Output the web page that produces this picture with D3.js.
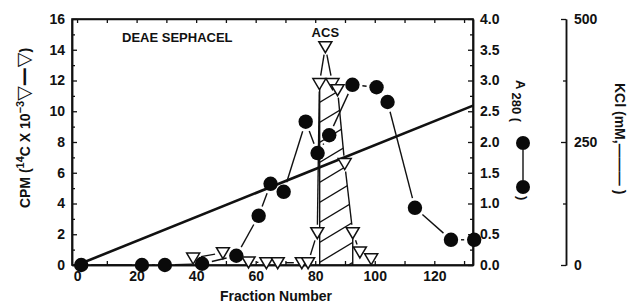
<!DOCTYPE html>
<html>
<head>
<meta charset="utf-8">
<script src="https://cdn.jsdelivr.net/npm/d3@7"></script>
<style>
  body { margin: 0; background: #fff; }
  svg { display: block; }
  text { font-family: "Liberation Sans", Arial, sans-serif; fill: #111; }
</style>
</head>
<body>
<svg id="chart" width="632" height="303"></svg>
<script>
// fraction numbers / values
const a280Fractions = [1.4, 21.8, 29.5, 42, 53.5, 61, 65, 69.4, 76.8, 80.8, 84.7, 92.5, 100.6, 104.3, 113.5, 125.6, 133.4]
const a280Values    = [0, 0, 0, 0.02, 0.15, 0.8, 1.32, 1.19, 2.33, 1.82, 2.11, 2.93, 2.89, 2.65, 0.93, 0.41, 0.41]

const cpmFractions = [39, 49, 57.6, 63.6, 67.4, 75.5, 77.6, 80.7, 81.4, 83.4, 85.8, 87.5, 89.9, 92.6, 95, 98.8]
const cpmValues    = [0.45, 0.8, 0.2, 0.15, 0.15, 0.15, 0.15, 2.1, 11.8, 14.2, 11.8, 11.4, 6.6, 2.1, 0.85, 0.4]

// pooled (hatched) fractions
const poolFractions = [81.5, 81.5, 85.8, 87.5, 89.9, 92.6, 92.6]
const poolValues    = [0, 11.8, 11.8, 11.4, 6.6, 2.1, 0]

const kclFractions = [0, 133]
const kclValues    = [0, 324]

const xTicks = [0, 20, 40, 60, 80, 100, 120]
const xMinor = [10, 30, 50, 70, 90, 110, 130]
const cpmTicks = [0, 2, 4, 6, 8, 10, 12, 14, 16]
const a280Ticks = [0, 0.5, 1, 1.5, 2, 2.5, 3, 3.5, 4]
const kclTicks = [0, 250, 500]

const svg = d3.select('#chart')
const mLeft = 72, mRight = 473, mTop = 19, mBottom = 265

var x = d3.scaleLinear().domain([-1.7, 133]).range([mLeft, mRight])
var yL = d3.scaleLinear().domain([0, 16]).range([mBottom, mTop])
var yR = d3.scaleLinear().domain([0, 4]).range([mBottom, mTop])
var yK = d3.scaleLinear().domain([0, 500]).range([mBottom, mTop])

function styleAxis(g) {
  g.selectAll('path').attr('stroke', '#111').attr('stroke-width', 1.5)
  g.selectAll('line').attr('stroke', '#111').attr('stroke-width', 1.3)
  g.selectAll('text').attr('font-size', 14).attr('font-weight', 'bold').style('font-family', '"Liberation Sans", Arial, sans-serif').attr('fill', '#111')
}

// frame
svg.append('rect').attr('x', mLeft).attr('y', mTop).attr('width', mRight - mLeft).attr('height', mBottom - mTop)
  .attr('fill', 'none').attr('stroke', '#111').attr('stroke-width', 1.6)

// hatched pool
const poolPts = poolFractions.map((f, i) => [x(f), yL(poolValues[i])])
svg.append('clipPath').attr('id', 'poolClip')
  .append('polygon').attr('points', poolPts.map(p => p.join(',')).join(' '))
const hatch = svg.append('g').attr('clip-path', 'url(#poolClip)')
for (var k = -4; k < 20; k++) {
  var y0 = mBottom - k * 20
  hatch.append('line')
    .attr('x1', x(80)).attr('y1', y0)
    .attr('x2', x(95)).attr('y2', y0 - (x(95) - x(80)) * 0.6)
    .attr('stroke', '#111').attr('stroke-width', 1.3)
}
// pool vertical edges
svg.append('line').attr('x1', x(81.5)).attr('x2', x(81.5)).attr('y1', yL(0)).attr('y2', yL(11.6))
  .attr('stroke', '#111').attr('stroke-width', 1.4)
svg.append('line').attr('x1', x(92.6)).attr('x2', x(92.6)).attr('y1', yL(0)).attr('y2', yL(2.1))
  .attr('stroke', '#111').attr('stroke-width', 1.4)

// axes
svg.append('g').attr('transform', `translate(${mLeft},0)`)
  .call(d3.axisLeft(yL).tickValues(cpmTicks).tickSizeInner(-5).tickSizeOuter(0).tickPadding(7))
  .call(styleAxis)
svg.append('g').attr('transform', `translate(${mLeft},0)`)
  .call(d3.axisLeft(yL).tickValues(d3.range(1, 16, 2)).tickSizeInner(-3).tickSizeOuter(0).tickFormat(''))
  .call(styleAxis)
svg.append('g').attr('transform', `translate(${mRight},0)`)
  .call(d3.axisRight(yR).tickValues(a280Ticks).tickSizeInner(-5).tickSizeOuter(0).tickPadding(7).tickFormat(d3.format('.1f')))
  .call(styleAxis)
svg.append('g').attr('transform', `translate(${mRight},0)`)
  .call(d3.axisRight(yR).tickValues(d3.range(0.25, 4, 0.5)).tickSizeInner(-3).tickSizeOuter(0).tickFormat(''))
  .call(styleAxis)
svg.append('g').attr('transform', `translate(0,${mBottom})`)
  .call(d3.axisBottom(x).tickValues(xTicks).tickSizeInner(-4).tickSizeOuter(0).tickPadding(6))
  .call(styleAxis)
svg.append('g').attr('transform', `translate(0,${mBottom})`)
  .call(d3.axisBottom(x).tickValues(xMinor).tickSizeInner(-4).tickSizeOuter(0).tickFormat(''))
  .call(styleAxis)
svg.append('g').attr('transform', `translate(0,${mTop})`)
  .call(d3.axisTop(x).tickValues(xTicks.concat(xMinor)).tickSizeInner(-4).tickSizeOuter(0).tickFormat(''))
  .call(styleAxis)
svg.append('g').attr('transform', 'translate(566,0)')
  .call(d3.axisRight(yK).tickValues(kclTicks).tickSizeInner(-5).tickSizeOuter(0).tickPadding(8))
  .call(styleAxis)
svg.append('g').attr('transform', 'translate(566,0)')
  .call(d3.axisRight(yK).tickValues([125, 375]).tickSizeInner(-3).tickSizeOuter(0).tickFormat(''))
  .call(styleAxis)

// KCl gradient
svg.append('path')
  .datum(kclFractions.map((f, i) => [f, kclValues[i]]))
  .attr('d', d3.line().x(d => x(d[0])).y(d => yK(d[1])))
  .attr('fill', 'none').attr('stroke', '#111').attr('stroke-width', 2.6)

// connecting lines that stop short of the markers
function gapLines(pts, gap) {
  const g = svg.append('g')
  for (var i = 0; i < pts.length - 1; i++) {
    var a = pts[i], b = pts[i + 1]
    var dx = b[0] - a[0], dy = b[1] - a[1]
    var len = Math.sqrt(dx * dx + dy * dy)
    if (len <= gap * 2 + 1) continue
    var ux = dx / len, uy = dy / len
    g.append('line')
      .attr('x1', a[0] + ux * gap).attr('y1', a[1] + uy * gap)
      .attr('x2', b[0] - ux * gap).attr('y2', b[1] - uy * gap)
      .attr('stroke', '#111').attr('stroke-width', 1.4)
  }
}

const cpmPts = cpmFractions.map((f, i) => [x(f), yL(cpmValues[i])])
const a280Pts = a280Fractions.map((f, i) => [x(f), yR(a280Values[i])])
gapLines(cpmPts, 8)
gapLines(a280Pts, 10)

// A280 markers
svg.append('g').selectAll('circle').data(a280Pts).enter().append('circle')
  .attr('cx', d => d[0]).attr('cy', d => d[1]).attr('r', 7.2).attr('fill', '#0a0a0a')

// CPM markers (open down triangles)
const tri = 'M-6.5,-5 L6.5,-5 L0,6 Z'
svg.append('g').selectAll('path').data(cpmPts).enter().append('path')
  .attr('d', tri).attr('transform', d => `translate(${d[0]},${d[1]})`)
  .attr('fill', '#fff').attr('stroke', '#111').attr('stroke-width', 1.5)

// labels
svg.append('text').attr('x', 122).attr('y', 42).attr('font-size', 13).attr('font-weight', 'bold').text('DEAE SEPHACEL')
svg.append('text').attr('x', x(83.4)).attr('y', 37).attr('text-anchor', 'middle').attr('font-size', 13).attr('font-weight', 'bold').text('ACS')
svg.append('text').attr('x', 276).attr('y', 301).attr('text-anchor', 'middle').attr('font-size', 14).attr('font-weight', 'bold').text('Fraction Number')

const cpmLabel = svg.append('text').attr('transform', 'translate(30,128) rotate(-90)')
  .attr('text-anchor', 'middle').attr('font-size', 14).attr('font-weight', 'bold')
cpmLabel.append('tspan').text('CPM (')
cpmLabel.append('tspan').attr('dy', -6).attr('font-size', 11).text('14')
cpmLabel.append('tspan').attr('dy', 6).text('C X 10')
cpmLabel.append('tspan').attr('dy', -6).attr('font-size', 11).text('\u22123')
cpmLabel.append('tspan').attr('dy', 6).style('font-family', '"DejaVu Sans"').attr('font-size', 19).text('\u25BD\u2014\u25BD')
cpmLabel.append('tspan').text(')')

const aLabel = svg.append('text').attr('transform', 'translate(516,80) rotate(90)')
  .attr('font-size', 13).attr('font-weight', 'bold')
aLabel.append('tspan').text('A ')
aLabel.append('tspan').attr('dy', 4).text('280 (')
svg.append('circle').attr('cx', 523).attr('cy', 143).attr('r', 7).attr('fill', '#0a0a0a')
svg.append('line').attr('x1', 523).attr('x2', 523).attr('y1', 150).attr('y2', 180).attr('stroke', '#111').attr('stroke-width', 1.4)
svg.append('circle').attr('cx', 523).attr('cy', 187).attr('r', 7).attr('fill', '#0a0a0a')
svg.append('text').attr('transform', 'translate(518,196) rotate(90)').attr('font-size', 13).attr('font-weight', 'bold').text(')')

const kLabel = svg.append('text').attr('transform', 'translate(615,83) rotate(90)')
  .attr('font-size', 14).attr('font-weight', 'bold')
kLabel.append('tspan').text('KCl (mM,')
kLabel.append('tspan').text('\u2014\u2014\u2014')
kLabel.append('tspan').attr('dx', 4).text(')')
</script>
</body>
</html>
